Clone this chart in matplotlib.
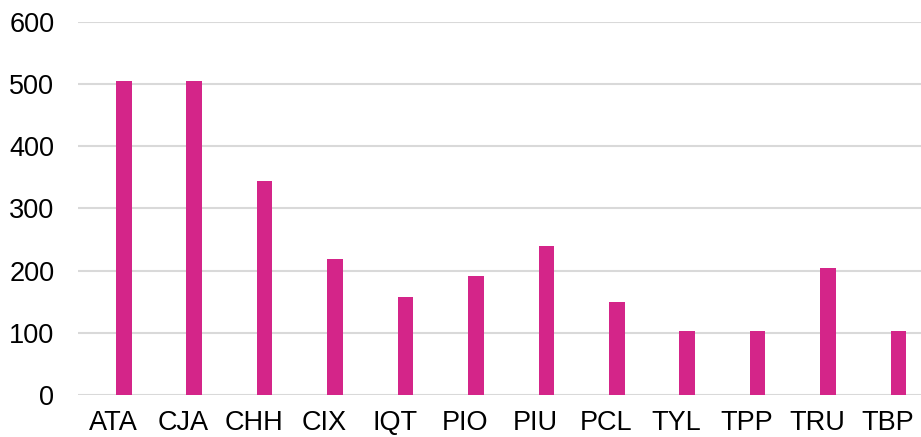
import matplotlib
matplotlib.use("Agg")
import matplotlib.pyplot as plt

categories = ["ATA", "CJA", "CHH", "CIX", "IQT", "PIO", "PIU", "PCL", "TYL", "TPP", "TRU", "TBP"]
values = [504, 504, 344, 218, 157, 191, 240, 149, 103, 103, 204, 103]
y_ticks = [0, 100, 200, 300, 400, 500, 600]

plt.rcParams["font.family"] = ["Liberation Sans", "DejaVu Sans"]

fig = plt.figure(figsize=(9.21, 4.37), dpi=100)
ax = fig.add_axes([78 / 921, 1 - 395 / 437, 1 - 78 / 921, (395 - 21.7) / 437])

x = list(range(len(categories)))
# bars sit a little right of the category centre, as in the original
ax.bar([i + 0.15 for i in x], values, width=0.22, color="#D42589", zorder=3)

ax.set_xlim(-0.5, len(categories) - 0.53)
ax.set_ylim(0, 600)
ax.set_yticks(y_ticks)
ax.set_xticks(x)
ax.set_xticklabels(categories)

ax.grid(axis="y", color="#D9D9D9", linewidth=1.5, zorder=0)
ax.set_axisbelow(True)
for spine in ax.spines.values():
    spine.set_visible(False)
ax.tick_params(axis="both", length=0, labelsize=19.5, colors="black")
ax.tick_params(axis="y", pad=17)
ax.tick_params(axis="x", pad=11)

fig.savefig("out.png", dpi=100)
